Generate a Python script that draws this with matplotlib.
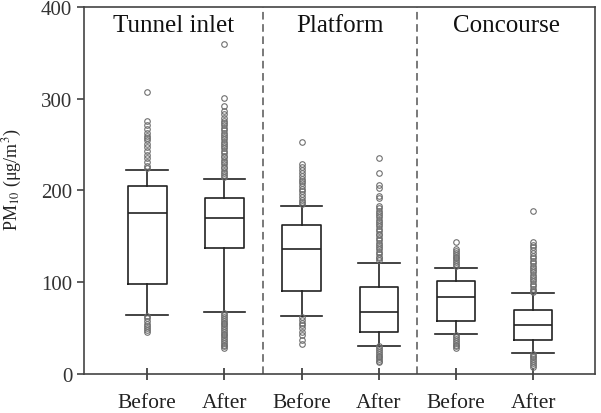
import matplotlib
matplotlib.use("Agg")
import matplotlib.pyplot as plt

plt.rcParams.update({"font.family": "Liberation Serif", "mathtext.fontset": "stix"})

# groups and labels
sites = ["Tunnel inlet", "Platform", "Concourse"]
periods = ["Before", "After"]

# box statistics, order: TI-B, TI-A, PF-B, PF-A, CC-B, CC-A
whislo = [64, 68, 63, 31, 44, 23]
q1 = [98, 137, 91, 46, 58, 37]
med = [176, 170, 136, 68, 84, 53]
q3 = [205, 192, 162, 95, 101, 70]
whishi = [222, 213, 183, 121, 116, 88]

# outliers
fl_ti_b = [307, 276, 271, 267, 263, 259, 257, 255, 251, 247, 243, 239, 235, 231, 227, 224,
           63, 61, 58, 55, 52, 50, 48, 46]
fl_ti_a = [360, 301, 292, 287, 283, 279, 276, 274, 271, 268, 266, 263, 261, 258, 256, 253,
           251, 248, 246, 243, 241, 238, 236, 233, 231, 229, 226, 224, 221, 219, 217, 215,
           66, 64, 62, 60, 58, 56, 54, 52, 50, 48, 46, 44, 42, 40, 38, 36, 34, 32, 30, 28]
fl_pf_b = [253, 229, 226, 222, 219, 216, 213, 210, 208, 205, 202, 199, 196, 193, 190, 187, 185,
           62, 59, 56, 53, 50, 46, 42, 37, 33]
fl_pf_a = [235, 219, 206, 203, 194, 192, 183, 181, 178, 176, 173, 171, 168, 166, 163, 161, 158,
           156, 153, 151, 148, 146, 143, 141, 138, 136, 133, 131, 128, 126, 124,
           30, 28, 26, 24, 22, 20, 18, 16, 14, 13]
fl_cc_b = [144, 136, 134, 132, 130, 128, 126, 124, 122, 120, 118,
           42, 40, 38, 36, 34, 32, 30, 28]
fl_cc_a = [178, 144, 141, 138, 135, 132, 129, 126, 123, 121, 118, 116, 113, 111, 108, 106,
           103, 101, 98, 96, 93, 91, 89,
           22, 20, 18, 16, 14, 12, 10, 8]
fliers = [fl_ti_b, fl_ti_a, fl_pf_b, fl_pf_a, fl_cc_b, fl_cc_a]

stats = [{"whislo": whislo[i], "q1": q1[i], "med": med[i], "q3": q3[i],
          "whishi": whishi[i], "fliers": fliers[i]} for i in range(6)]

fig = plt.figure(figsize=(6.01, 4.14), dpi=100)
ax = fig.add_axes([0.1398, 0.0942, 0.850, 0.8865])

pos = [1, 2, 3, 4, 5, 6]
ax.bxp(stats, positions=pos, widths=0.5, capwidths=0.54, showfliers=True,
       boxprops=dict(color="#222222", lw=1.2),
       whiskerprops=dict(color="#222222", lw=1.2),
       capprops=dict(color="#222222", lw=1.2),
       medianprops=dict(color="#222222", lw=1.2),
       flierprops=dict(marker="o", markersize=4, markerfacecolor="none",
                       markeredgecolor="#6f6f6f", markeredgewidth=0.8))

for x in (2.5, 4.5):
    ax.axvline(x, color="#555555", ls=(0, (5, 3)), lw=1.1)

for i, s in enumerate(sites):
    lo = 0.18 if i == 0 else 2 * i + 0.5
    hi = 6.8 if i == 2 else 2 * i + 2.5
    ax.text((lo + hi) / 2, 380, s, ha="center", va="center", fontsize=18, color="#111111")

ax.set_xlim(0.18, 6.8)
ax.set_ylim(0, 400)
ax.set_yticks([0, 100, 200, 300, 400])
ax.set_xticks(pos)
ax.set_xticklabels(periods * 3)
ax.tick_params(axis="x", direction="inout", length=8, pad=10, labelsize=15.5,
               colors="#222222", width=1.1)
ax.tick_params(axis="y", direction="out", length=5, labelsize=15, colors="#333333", width=1.1)
for sp in ax.spines.values():
    sp.set_color("#444444")
    sp.set_linewidth(1.2)

# y label placed directly in figure pixels
fig.text(12 / 601, 1 - 180 / 414, "PM$_{10}$ (μg/m$^{3}$)", rotation=90,
         ha="center", va="center", fontsize=13, color="#222222")

fig.savefig("out.png", dpi=100)
